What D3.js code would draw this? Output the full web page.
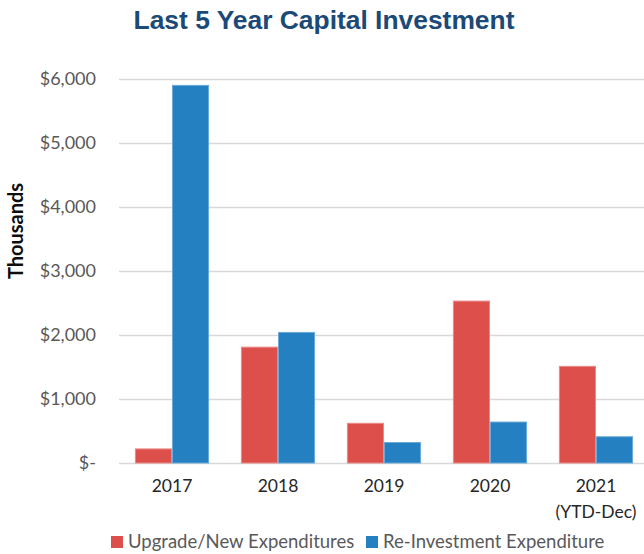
<!DOCTYPE html>
<html><head><meta charset="utf-8">
<script src="https://cdn.jsdelivr.net/npm/d3@7"></script>
<style>body{margin:0;background:#fff}svg{display:block}</style>
</head><body>
<script>
const categories = ["2017","2018","2019","2020","2021"];
const categorySub = ["","","","","(YTD-Dec)"];
const seriesNames = ["Upgrade/New Expenditures","Re-Investment Expenditure"];
const upgradeNew = [220,1810,620,2530,1510];
const reInvestment = [5900,2040,320,640,410];
const yTicks = [0,1000,2000,3000,4000,5000,6000];
const yTickLabels = ["$-","$1,000","$2,000","$3,000","$4,000","$5,000","$6,000"];

const W=644,H=554;
const colors=["#DD4F4B","#2480C0"];
const strokes=["#E98A87","#6AAAD8"];
const svg=d3.select("body").append("svg").attr("width",W).attr("height",H);
const labelFont="Lato, 'Open Sans', sans-serif";

svg.append("text").attr("x",324).attr("y",29).attr("text-anchor","middle")
 .attr("font-family","'Liberation Sans', Arial, sans-serif").attr("font-weight","bold")
 .attr("font-size",26.4).attr("fill","#1B4A78").text("Last 5 Year Capital Investment");

const x=d3.scaleBand().domain(categories).range([119,649]).paddingInner(0.3).paddingOuter(0.15);
const xs=d3.scaleBand().domain([0,1]).range([0,x.bandwidth()]);
const y=d3.scaleLinear().domain([0,6000]).range([463,79]);

const grid=svg.append("g");
grid.selectAll("line").data(yTicks).join("line")
 .attr("x1",119).attr("x2",W).attr("y1",d=>Math.round(y(d))+0.5).attr("y2",d=>Math.round(y(d))+0.5)
 .attr("stroke","#D9D9D9").attr("stroke-width",1.3);

const yAxis=d3.axisLeft(y).tickValues(yTicks).tickFormat((d,i)=>yTickLabels[i]).tickSize(0).tickPadding(0);
const ya=svg.append("g").attr("transform","translate(96,0)").call(yAxis);
ya.select(".domain").remove();
ya.selectAll("text").attr("font-family",labelFont).attr("font-size",18).attr("fill","#595959");

const data=[upgradeNew,reInvestment];
const groups=svg.append("g").selectAll("g").data(categories).join("g")
 .attr("transform",d=>`translate(${x(d)},0)`);
groups.selectAll("rect").data((d,i)=>[0,1].map(s=>({s,v:data[s][i]}))).join("rect")
 .attr("x",d=>xs(d.s)+0.5).attr("width",xs.bandwidth()-1)
 .attr("y",d=>y(d.v)).attr("height",d=>y(0)-y(d.v))
 .attr("fill",d=>colors[d.s]).attr("stroke",d=>strokes[d.s]).attr("stroke-width",1);

const xAxis=d3.axisBottom(x).tickSize(0).tickPadding(0);
const xa=svg.append("g").attr("transform","translate(0,480)").call(xAxis);
xa.select(".domain").remove();
xa.selectAll("text").attr("font-family",labelFont).attr("font-size",17.5).attr("fill","#262626");
xa.selectAll(".tick").append("text").attr("y",38).attr("text-anchor","middle")
 .attr("font-family",labelFont).attr("font-size",17.5).attr("fill","#262626")
 .text((d,i)=>categorySub[i]);

svg.append("text").attr("transform","translate(23,231) rotate(-90)").attr("text-anchor","middle")
 .attr("font-family",labelFont).attr("font-weight","bold").attr("font-size",20).attr("fill","#0d0d0d").text("Thousands");

const legendX=[111,366];
const lg=svg.append("g").selectAll("g").data(seriesNames).join("g")
 .attr("transform",(d,i)=>`translate(${legendX[i]},0)`);
lg.append("rect").attr("x",0).attr("y",536).attr("width",12).attr("height",12).attr("fill",(d,i)=>colors[i]);
lg.append("text").attr("x",17).attr("y",548).attr("font-family",labelFont).attr("font-size",18.5)
 .attr("fill","#595959").text(d=>d);
</script>
</body></html>
